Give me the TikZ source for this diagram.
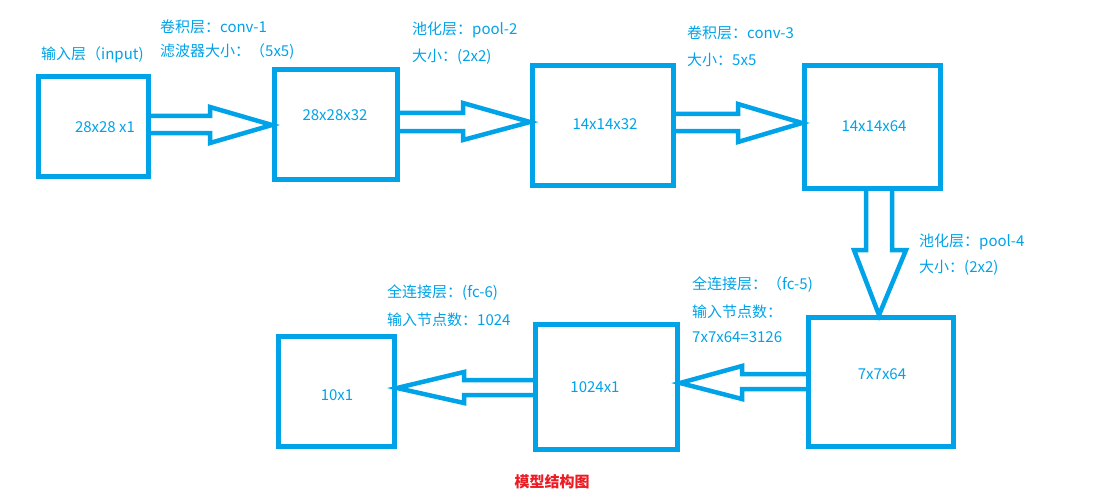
\documentclass[tikz,border=0pt]{standalone}
\usepackage{fontspec}
\setmainfont{Noto Sans CJK SC}
\definecolor{pblue}{HTML}{00A2E8}
\definecolor{pred}{HTML}{ED1C24}
\begin{document}
\begin{tikzpicture}[x=1pt,y=-1pt,
  box/.style={draw=pblue,line width=5pt,minimum width=#1,inner sep=0pt},
  boxh/.style={minimum height=#1},
  txt/.style={text=pblue,font=\fontsize{15}{17}\selectfont,inner sep=0pt},
  lab/.style={txt,anchor=west},
  barrow/.style={draw=pblue,line width=4.5pt,line join=miter}]
\useasboundingbox (0,0) rectangle (1107,500);
% boxes
\node[box=110,boxh=100] (b1) at (93.5,126.5) {};
\node[box=123,boxh=110] (b2) at (336,124.5) {};
\node[box=141,boxh=120] (b3) at (603,125.5) {};
\node[box=136,boxh=123] (b4) at (872.5,127) {};
\node[box=145,boxh=129] (b5) at (881,382) {};
\node[box=142,boxh=125] (b6) at (606.5,387) {};
\node[box=116,boxh=110] (b7) at (336.5,391.5) {};
% box texts
\node[txt] (t1) at (105,127) {28x28 x1};
\node[txt] (t2) at (335,115) {28x28x32};
\node[txt] (t3) at (605,124) {14x14x32};
\node[txt] (t4) at (874,126) {14x14x64};
\node[txt] (t5) at (882,374) {7x7x64};
\node[txt] (t6) at (595,387) {1024x1};
\node[txt] (t7) at (337,395) {10x1};
% labels
\node[lab] (l1) at (41,55) {输入层（input)};
\node[lab] (l2) at (160,27) {卷积层：conv-1};
\node[lab] (l3) at (160,52) {滤波器大小：（5x5)};
\node[lab] (l4) at (412,30) {池化层：pool-2};
\node[lab] (l5) at (412,57) {大小：(2x2)};
\node[lab] (l6) at (687,33) {卷积层：conv-3};
\node[lab] (l7) at (687,60) {大小：5x5};
\node[lab] (l8) at (919,242) {池化层：pool-4};
\node[lab] (l9) at (919,268) {大小：(2x2)};
\node[lab] (l10) at (692,285) {全连接层：（fc-5)};
\node[lab] (l11) at (692,312) {输入节点数：};
\node[lab] (l12) at (692,337) {7x7x64=3126};
\node[lab] (l13) at (387,293) {全连接层：(fc-6)};
\node[lab] (l14) at (387,320) {输入节点数：1024};
\node[text=pred,font=\fontsize{15}{17}\selectfont\bfseries,inner sep=0pt] (title) at (552,482) {模型结构图};
% block arrows
\draw[barrow] (b1.east |- 0,116) -- (210,116) -- (210,107) -- (b2.west |- 0,125) -- (210,143) -- (210,133) -- (b1.east |- 0,133);
\draw[barrow] (b2.east |- 0,113) -- (463,113) -- (463,103) -- (b3.west |- 0,122) -- (463,140) -- (463,131) -- (b2.east |- 0,131);
\draw[barrow] (b3.east |- 0,114) -- (738,114) -- (738,104) -- (b4.west |- 0,123) -- (738,142) -- (738,131) -- (b3.east |- 0,131);
\draw[barrow] (b4.south -| 866,0) -- (866,250) -- (854,250) -- (b5.north -| 879,0) -- (906,250) -- (892,250) -- (b4.south -| 892,0);
\draw[barrow] (b5.west |- 0,374) -- (742,374) -- (742,366) -- (b6.east |- 0,383) -- (742,399) -- (742,389) -- (b5.west |- 0,389);
\draw[barrow] (b6.west |- 0,380) -- (464,380) -- (464,372) -- (b7.east |- 0,388) -- (464,403) -- (464,395) -- (b6.west |- 0,395);
\end{tikzpicture}
\end{document}
